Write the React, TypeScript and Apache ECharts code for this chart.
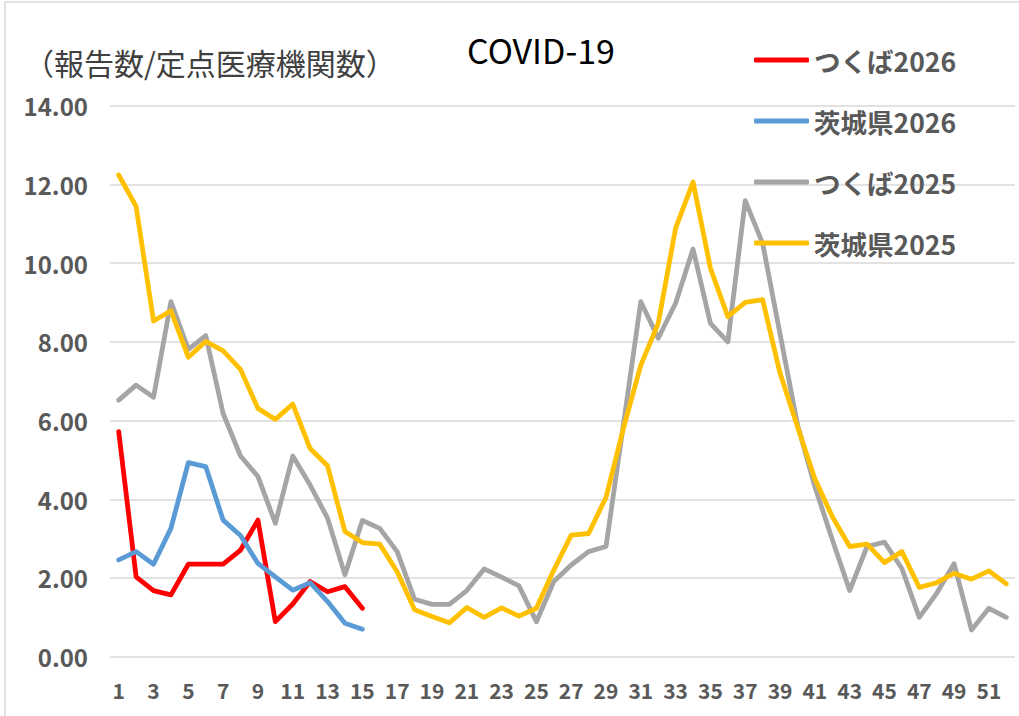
import React, { useEffect, useRef } from "react";
import * as echarts from "echarts";

const weeks = ["1","2","3","4","5","6","7","8","9","10","11","12","13","14","15","16","17","18","19","20","21","22","23","24","25","26","27","28","29","30","31","32","33","34","35","36","37","38","39","40","41","42","43","44","45","46","47","48","49","50","51","52"];

const seriesNames = ["つくば2026", "茨城県2026", "つくば2025", "茨城県2025"];
const seriesColors = ["#FF0000", "#5B9BD5", "#A5A5A5", "#FFC000"];

const tsukuba2026 = [5.72, 2.03, 1.68, 1.57, 2.35, 2.35, 2.35, 2.71, 3.47, 0.89, 1.34, 1.91, 1.65, 1.78, 1.23];
const ibaraki2026 = [2.46, 2.67, 2.35, 3.26, 4.93, 4.83, 3.47, 3.08, 2.37, 2.03, 1.69, 1.88, 1.40, 0.85, 0.70];
const tsukuba2025 = [6.52, 6.90, 6.59, 9.02, 7.81, 8.16, 6.18, 5.10, 4.58, 3.39, 5.10, 4.36, 3.52, 2.08, 3.46, 3.26, 2.67, 1.46, 1.33, 1.33, 1.68, 2.23, 2.02, 1.80, 0.89, 1.91, 2.33, 2.67, 2.80, 5.90, 9.02, 8.09, 8.98, 10.36, 8.47, 8.00, 11.59, 10.50, 8.20, 5.90, 4.32, 2.98, 1.68, 2.80, 2.91, 2.24, 1.00, 1.61, 2.36, 0.68, 1.23, 1.00];
const ibaraki2025 = [12.24, 11.44, 8.53, 8.79, 7.61, 8.01, 7.77, 7.30, 6.31, 6.03, 6.42, 5.29, 4.85, 3.18, 2.90, 2.86, 2.16, 1.19, 1.02, 0.86, 1.25, 1.00, 1.24, 1.03, 1.23, 2.20, 3.09, 3.13, 4.05, 5.80, 7.41, 8.47, 10.89, 12.06, 9.87, 8.64, 9.00, 9.07, 7.20, 5.85, 4.52, 3.56, 2.80, 2.86, 2.39, 2.67, 1.76, 1.88, 2.12, 1.97, 2.18, 1.85];

const yMin = 0;
const yMax = 14;
const yStep = 2;

const chartTitle = "COVID-19";
const yAxisTitle = "（報告数/定点医療機関数）";

const FONT = "'Noto Sans CJK JP', 'Noto Sans', sans-serif";

export default function App() {
  const ref = useRef<HTMLDivElement>(null);
  useEffect(() => {
    document.body.style.margin = "0";
    if (!ref.current) return;
    const chart = echarts.init(ref.current, undefined, { renderer: "svg" });
    const allData = [tsukuba2026, ibaraki2026, tsukuba2025, ibaraki2025];
    chart.setOption({
      animation: false,
      backgroundColor: "#ffffff",
      textStyle: { fontFamily: FONT },
      title: [
        {
          text: chartTitle,
          left: 536,
          top: 27,
          textAlign: "center",
          textStyle: { fontFamily: FONT, fontSize: 34, fontWeight: "normal", color: "#000000" },
        },
        {
          text: yAxisTitle,
          left: 19,
          top: 42,
          textStyle: { fontFamily: FONT, fontSize: 30, fontWeight: "normal", color: "#404040" },
        },
      ],
      graphic: [
        {
          type: "rect",
          shape: { x: 5, y: 2, width: 1200, height: 900 },
          style: { fill: "none", stroke: "#d9d9d9", lineWidth: 1.5 },
          silent: true,
        },
      ],
      legend: {
        orient: "vertical",
        left: 749,
        top: 40,
        itemWidth: 55,
        itemHeight: 5,
        itemGap: 31,
        icon: "roundRect",
        textStyle: { fontFamily: FONT, fontSize: 26.5, fontWeight: "bold", color: "#595959", lineHeight: 30 },
        data: seriesNames,
      },
      grid: { left: 110, right: 4, top: 105.7, bottom: 59.3, containLabel: false },
      xAxis: {
        type: "category",
        data: weeks,
        boundaryGap: true,
        axisLine: { show: false },
        axisTick: { show: false },
        splitLine: { show: false },
        axisLabel: {
          interval: 1,
          margin: 23,
          fontFamily: FONT,
          fontSize: 21,
          fontWeight: "bold",
          color: "#595959",
        },
      },
      yAxis: {
        type: "value",
        min: yMin,
        max: yMax,
        interval: yStep,
        axisLine: { show: false },
        axisTick: { show: false },
        splitLine: { show: true, lineStyle: { color: "#d9d9d9", width: 1.5 } },
        axisLabel: {
          margin: 22,
          fontFamily: FONT,
          fontSize: 24,
          fontWeight: "bold",
          color: "#595959",
          formatter: (v: number) => v.toFixed(2),
        },
      },
      series: seriesNames.map((name, i) => ({
        name,
        type: "line",
        data: allData[i],
        symbol: "none",
        smooth: false,
        color: seriesColors[i],
        lineStyle: { color: seriesColors[i], width: 4.8, cap: "round", join: "round" },
        itemStyle: { color: seriesColors[i] },
      })),
    });
    return () => chart.dispose();
  }, []);
  return <div ref={ref} style={{ width: 1019, height: 716 }} />;
}
